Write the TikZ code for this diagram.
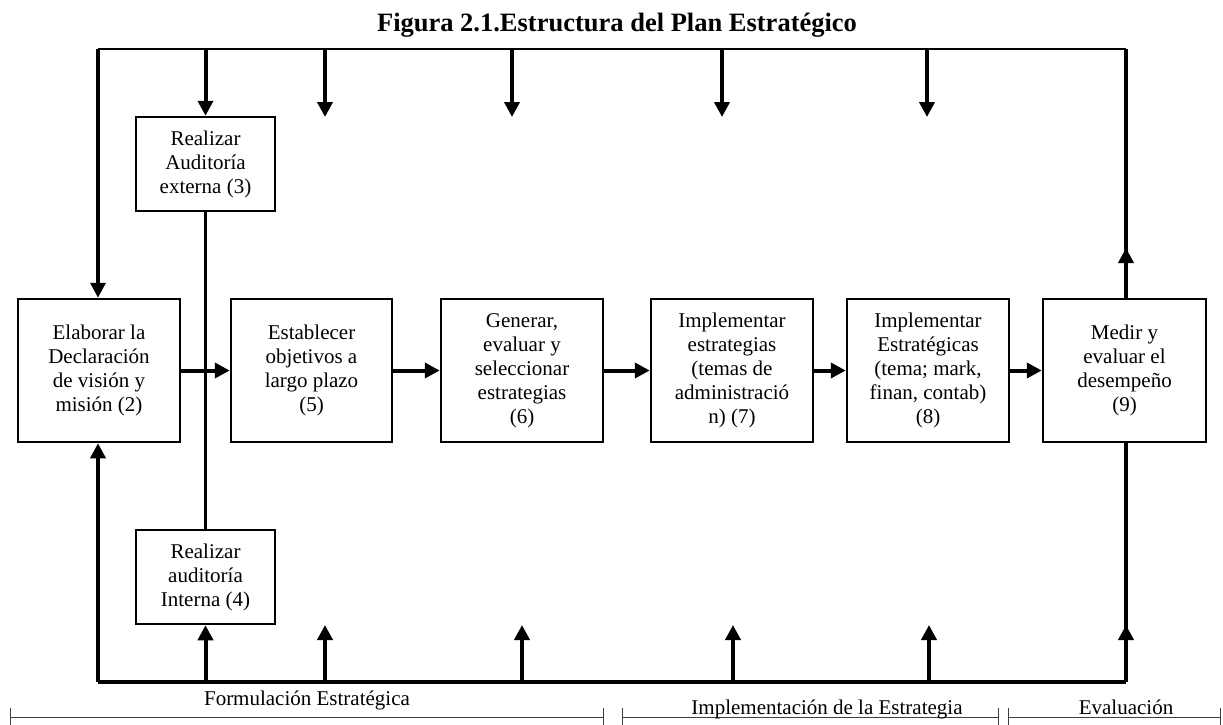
\documentclass[tikz,border=0pt]{standalone}
\usepackage{fontspec}
\setmainfont{Liberation Serif}
\usetikzlibrary{arrows.meta}
\begin{document}
\begin{tikzpicture}[x=1pt,y=-1pt,
  box/.style={draw, line width=2.5pt, fill=white, align=center, inner sep=0pt,
    font=\fontsize{21}{24}\selectfont},
  smallbox/.style={box, minimum width=139pt, minimum height=94pt},
  bigbox/.style={box, minimum width=162pt, minimum height=143pt},
  flow/.style={line width=4pt, -{Triangle[length=15pt,width=15pt]}},
  wire/.style={line width=4pt},
  thinwire/.style={line width=2pt},
  brk/.style={line width=1pt, draw=black!75},
  lbl/.style={anchor=base, inner sep=0pt, font=\fontsize{21}{24}\selectfont}
]
\useasboundingbox (0,0) rectangle (1223,725);

% title
\node[anchor=base, inner sep=0pt, font=\fontsize{26.5}{30}\bfseries] (title) at (617,32)
  {Figura 2.1.Estructura del Plan Estratégico};

% loop corners
\coordinate (tl) at (98,49);
\coordinate (tr) at (1126,49);
\coordinate (bl) at (98,682);
\coordinate (br) at (1126,682);

% process boxes
\node[bigbox] (b2) at (99,370.5) {Elaborar la\\Declaración\\de visión y\\misión (2)};
\node[bigbox, minimum width=161pt] (b5) at (311.5,370.5) {Establecer\\objetivos a\\largo plazo\\(5)};
\node[bigbox] (b6) at (522,370.5) {Generar,\\evaluar y\\seleccionar\\estrategias\\(6)};
\node[bigbox] (b7) at (732,370.5) {Implementar\\estrategias\\(temas de\\administració\\n) (7)};
\node[bigbox] (b8) at (928,370.5) {Implementar\\Estratégicas\\(tema; mark,\\finan, contab)\\(8)};
\node[bigbox, minimum width=163pt] (b9) at (1124.5,370.5) {Medir y\\evaluar el\\desempeño\\(9)};
\node[smallbox] (b3) at (205.5,164) {Realizar\\Auditoría\\externa (3)};
\node[smallbox] (b4) at (205.5,577) {Realizar\\auditoría\\Interna (4)};

% free arrow ends
\coordinate (d1) at (325,117);
\coordinate (d2) at (512,117);
\coordinate (d3) at (722,117);
\coordinate (d4) at (927,117);
\coordinate (u1) at (325,625);
\coordinate (u2) at (522,625);
\coordinate (u3) at (733,625);
\coordinate (u4) at (929,625);
\coordinate (rup) at (1126,248);
\coordinate (rdn) at (1126,625);

% top rail and feeds
\draw[thinwire] (tl) -- (tr);
\draw[flow, line width=3.5pt] (tl) -- (b2.north -| tl);
\draw[flow] (b3.north |- tl) -- (b3.north);
\foreach \c in {d1,d2,d3,d4} \draw[flow] (\c |- tl) -- (\c);

% right side
\draw[wire] (b9.north -| tr) -- (tr);
\draw[flow] (b9.north -| tr) -- (rup);
\draw[wire, line width=4.5pt] (br) -- (b9.south -| br);
\draw[flow] (br) -- (rdn);

% bottom rail and feeds
\draw[wire] (bl) -- (br);
\draw[flow, line width=3.5pt] (bl) -- (b2.south -| bl);
\draw[flow] (b4.south |- bl) -- (b4.south);
\foreach \c in {u1,u2,u3,u4} \draw[flow] (\c |- bl) -- (\c);

% audits
\draw[wire, line width=3.5pt] (b3.south) -- (b4.north);

% main chain
\draw[flow] (b2) -- (b5);
\draw[flow] (b5) -- (b6);
\draw[flow] (b6) -- (b7);
\draw[flow] (b7) -- (b8);
\draw[flow] (b8) -- (b9);

% phase brackets
\draw[brk] (10,717) -- (603,717);
\draw[brk] (10,708) -- (10,727);
\draw[brk] (603,708) -- (603,727);
\draw[brk] (622,717) -- (998,717);
\draw[brk] (622,708) -- (622,727);
\draw[brk] (998,708) -- (998,727);
\draw[brk] (1008,717) -- (1220,717);
\draw[brk] (1008,708) -- (1008,727);
\draw[brk] (1220,708) -- (1220,727);

\node[lbl] (p1) at (307,705) {Formulación Estratégica};
\node[lbl] (p2) at (827,714) {Implementación de la Estrategia};
\node[lbl] (p3) at (1126,714) {Evaluación};
\end{tikzpicture}
\end{document}
